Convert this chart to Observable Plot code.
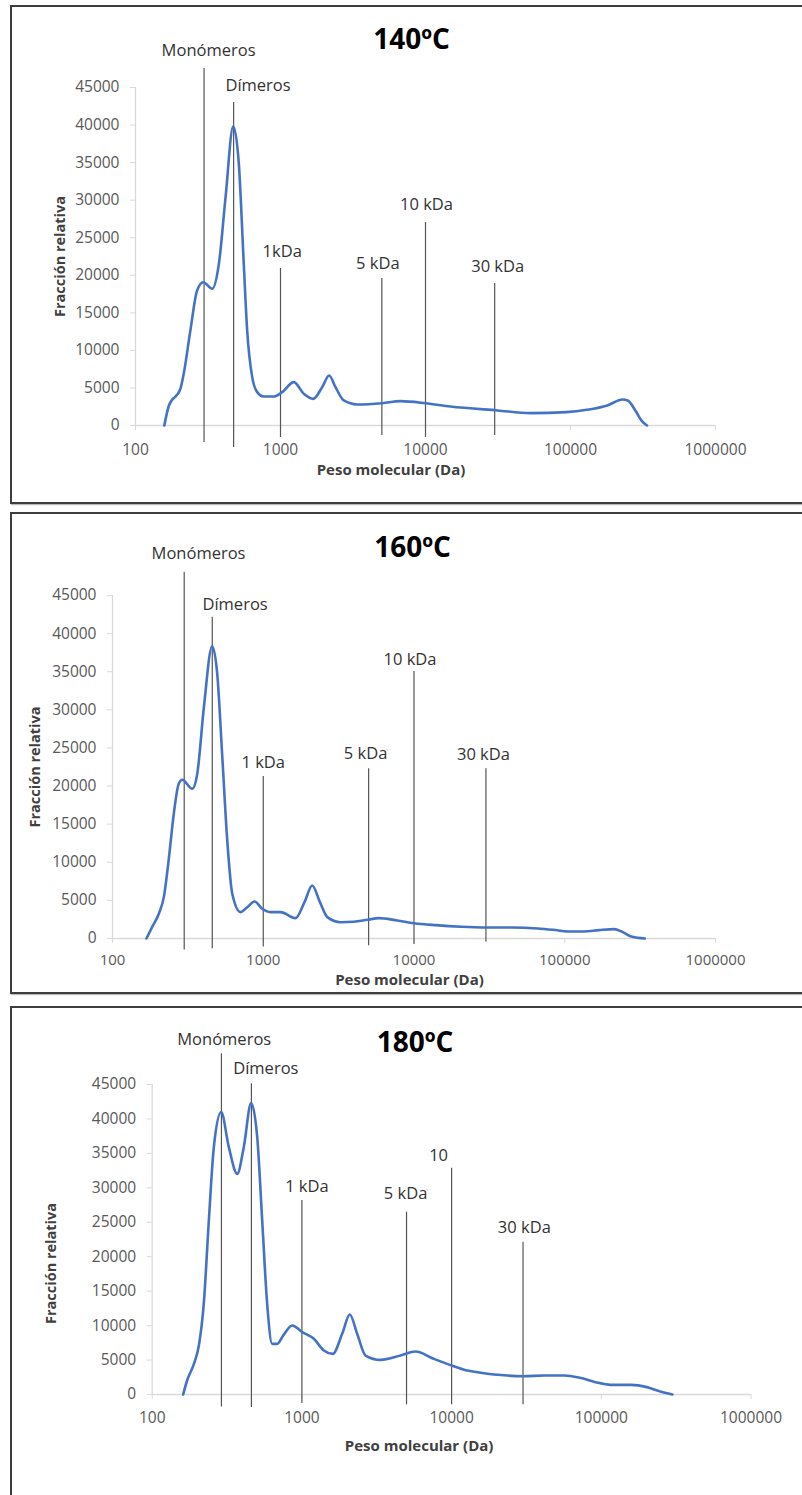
<!DOCTYPE html>
<html>
<head>
<meta charset="utf-8">
<script src="https://cdn.jsdelivr.net/npm/d3@7"></script>
<script src="https://cdn.jsdelivr.net/npm/@observablehq/plot@0.6"></script>
<style>
  html, body { margin: 0; padding: 0; background: #fff; }
  #page { position: relative; width: 802px; height: 1495px; overflow: hidden; background: #fff; }
  .frame { position: absolute; left: 10px; width: 820px; box-sizing: border-box; border: 2px solid #3d3d3d; box-shadow: 1px 1px 1px #bbb; }
  .chart { position: absolute; left: 0; }
</style>
</head>
<body>
<div id="page">
  <div class="frame" style="top:5px;height:498.5px"></div>
  <div class="frame" style="top:511.7px;height:482.6px"></div>
  <div class="frame" style="top:1006.3px;height:600px"></div>
</div>
<script>
// ---------------- data ----------------
const xTicks = [100, 1000, 10000, 100000, 1000000];
const yTicks = [0, 5000, 10000, 15000, 20000, 25000, 30000, 35000, 40000, 45000];

// 140 ºC
const mw140 = [158, 170, 204, 215, 239, 266, 293, 338, 376, 418, 472, 516, 558, 589, 638, 691, 767, 899, 1027, 1236, 1448, 1680, 1937, 2166, 2395, 2733, 3377, 5024, 6725, 10000, 14860, 31400, 53200, 93800, 129700, 179400, 228600, 248000, 280000, 311000, 337000];
const fr140 = [0, 2660, 4880, 6880, 12650, 17970, 19080, 18200, 21530, 30400, 39850, 34840, 21530, 12650, 6440, 4440, 3860, 3860, 4440, 5770, 4220, 3550, 5100, 6660, 5100, 3330, 2800, 2970, 3240, 2970, 2530, 2000, 1650, 1780, 2090, 2670, 3470, 3340, 2000, 580, 0];
const labels140 = ["Monómeros", "Dímeros", "1kDa", "5 kDa", "10 kDa", "30 kDa"];
const markX140 = [297, 475, 1000, 5000, 10000, 30000];
const markTop140 = [47530, 43000, 20900, 19570, 27030, 18900];
const markBottom140 = [-2260, -2930, -1600, -1330, -1600, -1330];

// 160 ºC
const mw160 = [168, 183, 203, 219, 237, 255, 275, 290, 338, 365, 404, 458, 495, 535, 577, 623, 706, 783, 876, 984, 1117, 1302, 1637, 1878, 2113, 2377, 2660, 3261, 3990, 4900, 5850, 7740, 10000, 13930, 20560, 30300, 44800, 66200, 83600, 105700, 133600, 168700, 213300, 239800, 280000, 340000];
const fr160 = [0, 1490, 3240, 5430, 10680, 16370, 20310, 20830, 19650, 21620, 30370, 38340, 34750, 23810, 12870, 5860, 3460, 4110, 4860, 3900, 3460, 3460, 2670, 4770, 6960, 4770, 2800, 2140, 2200, 2450, 2670, 2360, 2010, 1750, 1540, 1450, 1450, 1320, 1140, 920, 920, 1100, 1230, 880, 220, 0];
const labels160 = ["Monómeros", "Dímeros", "1 kDa", "5 kDa", "10 kDa", "30 kDa"];
const markX160 = [299, 459, 1000, 5000, 10000, 30000];
const markTop160 = [48060, 42150, 21250, 22260, 35030, 22260];
const markBottom160 = [-1500, -1350, -1100, -950, -800, -500];

// 180 ºC
const mw180 = [161, 171, 190, 205, 221, 239, 258, 289, 325, 370, 409, 458, 503, 543, 586, 633, 684, 750, 861, 1005, 1202, 1401, 1608, 1858, 2089, 2339, 2660, 3350, 4560, 5740, 7600, 10000, 12700, 14850, 20360, 30200, 41400, 56900, 72100, 91400, 115700, 158800, 201300, 245000, 298500];
const fr180 = [0, 2030, 4450, 7110, 13160, 25260, 35900, 40990, 35900, 32030, 35900, 42290, 37350, 25260, 13160, 7350, 7350, 8560, 10020, 9050, 8080, 6390, 5900, 8810, 11610, 8810, 5660, 5030, 5660, 6240, 5180, 4210, 3480, 3250, 2860, 2660, 2760, 2760, 2420, 1790, 1400, 1400, 1070, 480, 0];
const labels180 = ["Monómeros", "Dímeros", "1 kDa", "5 kDa", "10", "30 kDa"];
const markX180 = [290, 460, 1000, 5000, 10000, 30000];
const markTop180 = [49460, 45100, 28160, 26460, 32850, 22110];
const markBottom180 = [-1800, -1900, -1300, -1500, -1500, -1500];

const titles = ["140ºC", "160ºC", "180ºC"];
const xTitle = "Peso molecular (Da)";
const yTitle = "Fracción relativa";

// ---------------- layout ----------------
const panels = [
  {
    title: titles[0], mw: mw140, fr: fr140, labels: labels140, mx: markX140, tops: markTop140, bottoms: markBottom140,
    top: 0, height: 505, margin: {top: 87, right: 87, bottom: 80, left: 135},
    tickPad: 13, tickFont: 15.5,
    titleOff: [-14, -47], yTitleOff: [-75.5, 0], xTitleOff: [-34.5, 45],
    labelOff: [[4.5, -18], [24.4, -17], [1.7, -16.3], [-4, -14.3], [1, -18], [3, -17]]
  },
  {
    title: titles[1], mw: mw160, fr: fr160, labels: labels160, mx: markX160, tops: markTop160, bottoms: markBottom160,
    top: 505, height: 490, margin: {top: 90, right: 87, bottom: 57, left: 112},
    tickPad: 10.5, tickFont: 15,
    titleOff: [-1.5, -47], yTitleOff: [-77.5, 0], xTitleOff: [-4.5, 41.5],
    labelOff: [[14.3, -18.4], [22.8, -13], [0, -14.3], [-3, -15.5], [-4, -12], [-2.5, -14.5]]
  },
  {
    title: titles[2], mw: mw180, fr: fr180, labels: labels180, mx: markX180, tops: markTop180, bottoms: markBottom180,
    top: 1000, height: 495, margin: {top: 84, right: 51.5, bottom: 101, left: 151.7},
    tickPad: 12, tickFont: 15.5,
    titleOff: [-36.5, -41], yTitleOff: [-101.3, 24], xTitleOff: [-32.5, 51.5],
    labelOff: [[2.8, -14.3], [14.4, -14.6], [5, -14.2], [-1, -18.4], [-13, -12], [1.3, -14.2]]
  }
];

const page = document.getElementById("page");
const fmt = d3.format("d");

for (const p of panels) {
  const curve = p.mw.map((m, i) => ({mw: m, f: p.fr[i]}));
  const markers = p.mx.map((m, i) => ({mw: m, top: p.tops[i], bottom: p.bottoms[i], label: p.labels[i]}));
  const labelMarks = markers.map((d, i) =>
    Plot.text([d], {
      x: "mw", y: "top", text: "label",
      dx: p.labelOff[i][0], dy: p.labelOff[i][1],
      fontSize: 16.5, fill: "#333", textAnchor: "middle", lineAnchor: "middle"
    })
  );
  const svg = Plot.plot({
    width: 802,
    height: p.height,
    marginTop: p.margin.top,
    marginRight: p.margin.right,
    marginBottom: p.margin.bottom,
    marginLeft: p.margin.left,
    style: {background: "transparent", fontFamily: "'Open Sans', sans-serif", overflow: "visible"},
    x: {type: "log", domain: [100, 1000000], label: null, axis: null},
    y: {domain: [0, 45000], label: null, axis: null},
    marks: [
      Plot.ruleX([100], {stroke: "#d9d9d9", strokeWidth: 1.3}),
      Plot.ruleY([0], {stroke: "#d9d9d9", strokeWidth: 1.3}),
      Plot.axisX({ticks: xTicks, tickFormat: fmt, tickSize: 5, tickPadding: p.tickPad, stroke: "#d9d9d9", fill: "#595959", fontSize: p.tickFont, label: null}),
      Plot.axisY({ticks: yTicks, tickFormat: fmt, tickSize: 5, tickPadding: 11, stroke: "#d9d9d9", fill: "#595959", fontSize: 15.5, label: null}),
      Plot.ruleX(markers, {x: "mw", y1: "bottom", y2: "top", stroke: "#555", strokeWidth: 1.2}),
      Plot.line(curve, {x: "mw", y: "f", stroke: "#4472c4", strokeWidth: 2.6, curve: "monotone-x"}),
      ...labelMarks,
      Plot.text([p.title], {frameAnchor: "top", text: d => d, dx: p.titleOff[0], dy: p.titleOff[1], fontSize: 28, fontWeight: "bold", fill: "#000", textAnchor: "middle", lineAnchor: "middle"}),
      Plot.text([yTitle], {frameAnchor: "left", text: d => d, rotate: -90, dx: p.yTitleOff[0], dy: p.yTitleOff[1], fontSize: 14.5, fontWeight: "bold", fill: "#404040", textAnchor: "middle", lineAnchor: "middle"}),
      Plot.text([xTitle], {frameAnchor: "bottom", text: d => d, dx: p.xTitleOff[0], dy: p.xTitleOff[1], fontSize: 15, fontWeight: "bold", fill: "#404040", textAnchor: "middle", lineAnchor: "middle"})
    ]
  });
  svg.classList.add("chart");
  svg.style.top = p.top + "px";
  page.appendChild(svg);
}
</script>
</body>
</html>
